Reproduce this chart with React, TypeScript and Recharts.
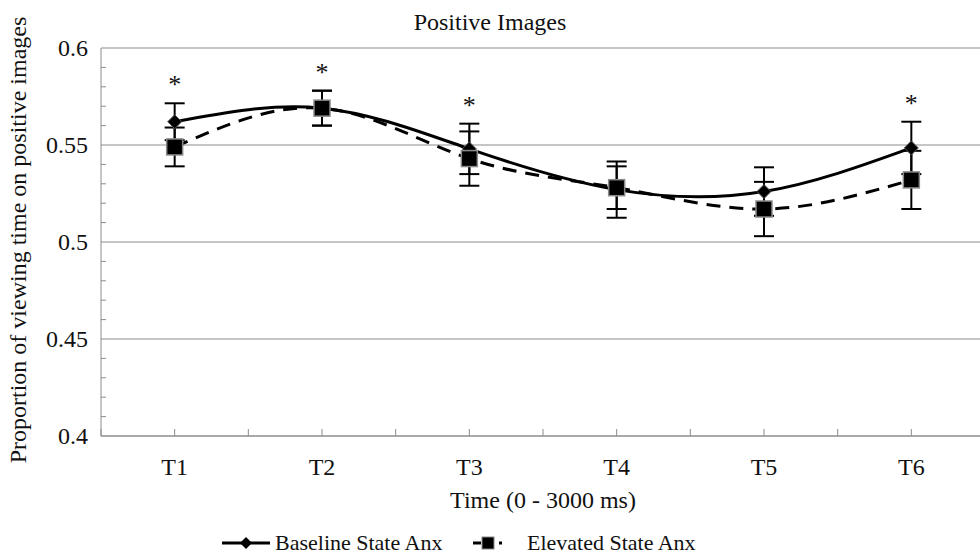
import React from 'react';
import { ComposedChart, Line, XAxis, YAxis, CartesianGrid, ErrorBar, LabelList } from 'recharts';

const categories = ['T1', 'T2', 'T3', 'T4', 'T5', 'T6'];
const baseline = [0.562, 0.569, 0.548, 0.527, 0.526, 0.5485];
const baselineErr = [0.0095, 0.009, 0.013, 0.0145, 0.0125, 0.0135];
const elevated = [0.549, 0.569, 0.543, 0.528, 0.517, 0.532];
const elevatedErr = [0.01, 0.009, 0.014, 0.011, 0.014, 0.015];
const significant = [true, true, true, false, false, true];
const yMajorTicks = [0.4, 0.45, 0.5, 0.55, 0.6];
const yMinorTicks = [0.4, 0.41, 0.42, 0.43, 0.44, 0.45, 0.46, 0.47, 0.48, 0.49, 0.5, 0.51, 0.52, 0.53, 0.54, 0.55, 0.56, 0.57, 0.58, 0.59, 0.6];
const xTicks = [0.5, 1, 1.5, 2, 2.5, 3, 3.5, 4, 4.5, 5, 5.5, 6, 6.5];

const data = categories.map((c, i) => ({
  x: i + 1,
  name: c,
  baseline: baseline[i],
  baselineErr: baselineErr[i],
  elevated: elevated[i],
  elevatedErr: elevatedErr[i],
  star: significant[i] ? Math.max(baseline[i] + baselineErr[i], elevated[i] + elevatedErr[i]) : null,
}));

const FONT = '"Liberation Serif", "Times New Roman", serif';
const GRID = '#8c8c8c';

const YTick = (props: any) => {
  const { x, y, payload } = props;
  const v = payload.value;
  const isMajor = yMajorTicks.some((t) => Math.abs(t - v) < 1e-9);
  return (
    <g>
      {!isMajor && <line x1={x} x2={x + 5} y1={y} y2={y} stroke={GRID} strokeWidth={1} />}
      {isMajor && (
        <text x={x - 13} y={y} dy={8} textAnchor="end" fontFamily={FONT} fontSize={24} fill="#111">
          {String(v)}
        </text>
      )}
    </g>
  );
};

const XTick = (props: any) => {
  const { x, y, payload } = props;
  const v = payload.value;
  const idx = Math.round(v) - 1;
  const isCat = Math.abs(v - Math.round(v)) < 1e-9 && idx >= 0 && idx < categories.length;
  return (
    <g>
      <line x1={x} x2={x} y1={y} y2={y - 7} stroke={GRID} strokeWidth={1} />
      {isCat && (
        <text x={x} y={y + 39} textAnchor="middle" fontFamily={FONT} fontSize={24} fill="#111">
          {categories[idx]}
        </text>
      )}
    </g>
  );
};

const Diamond = (props: any) => {
  const { cx, cy } = props;
  if (cx == null || cy == null) return null;
  const r = 7;
  return <path d={`M${cx},${cy - r} L${cx + r},${cy} L${cx},${cy + r} L${cx - r},${cy} Z`} fill="#000" stroke="#555" strokeWidth={1} />;
};

const Square = (props: any) => {
  const { cx, cy } = props;
  if (cx == null || cy == null) return null;
  const s = 16;
  return <rect x={cx - s / 2} y={cy - s / 2} width={s} height={s} fill="#000" stroke="#8a8a8a" strokeWidth={1.5} />;
};

const StarLabel = (props: any) => {
  const { x, y, value } = props;
  if (value == null || x == null || y == null) return null;
  return (
    <text x={x} y={y - 10} textAnchor="middle" fontFamily={FONT} fontSize={26} fill="#111">
      *
    </text>
  );
};

export default function App() {
  return (
    <div style={{ position: 'absolute', left: 0, top: 0, width: 980, height: 556, overflow: 'hidden', background: '#fff' }}>
      <svg width={980} height={556} style={{ position: 'absolute', left: 0, top: 0 }}>
        <text x={490} y={30} textAnchor="middle" fontFamily={FONT} fontSize={24} fill="#111">Positive Images</text>
        <text x={543} y={508} textAnchor="middle" fontFamily={FONT} fontSize={24} fill="#111">Time (0 - 3000 ms)</text>
        <text transform="translate(26,240) rotate(-90)" textAnchor="middle" fontFamily={FONT} fontSize={24} fill="#111">
          Proportion of viewing time on positive images
        </text>
        {/* legend */}
        <g>
          <line x1={222} x2={270} y1={543} y2={543} stroke="#000" strokeWidth={3} />
          <path d="M246,537 L252,543 L246,549 L240,543 Z" fill="#000" />
          <text x={275} y={550} fontFamily={FONT} fontSize={22} fill="#111">Baseline State Anx</text>
          <line x1={473} x2={502} y1={543} y2={543} stroke="#000" strokeWidth={3} strokeDasharray="8 5" />
          <rect x={482} y={537} width={12} height={12} fill="#000" stroke="#888" strokeWidth={1} />
          <text x={527} y={550} fontFamily={FONT} fontSize={22} fill="#111">Elevated State Anx</text>
        </g>
      </svg>
      <div style={{ position: 'absolute', left: 0, top: 0 }}>
        <ComposedChart width={985} height={556} data={data} margin={{ top: 48, right: 0, bottom: 0, left: 0 }}>
          <CartesianGrid vertical={false} stroke={GRID} strokeWidth={1} horizontalValues={yMajorTicks} />
          <XAxis
            type="number"
            dataKey="x"
            domain={[0.5, 6.5]}
            ticks={xTicks}
            interval={0}
            axisLine={{ stroke: GRID }}
            tickLine={false}
            tickSize={0}
            tickMargin={0}
            tick={<XTick />}
            height={120}
          />
          <YAxis
            type="number"
            domain={[0.4, 0.6]}
            ticks={yMinorTicks}
            interval={0}
            axisLine={{ stroke: GRID }}
            tickLine={false}
            tickSize={0}
            tickMargin={0}
            tick={<YTick />}
            width={101}
          />
          <Line dataKey="star" stroke="none" dot={false} activeDot={false} isAnimationActive={false} connectNulls={false}>
            <LabelList dataKey="star" content={<StarLabel />} />
          </Line>
          <Line
            type="natural"
            dataKey="baseline"
            stroke="#000"
            strokeWidth={3}
            dot={<Diamond />}
            activeDot={false}
            isAnimationActive={false}
          >
            <ErrorBar dataKey="baselineErr" direction="y" width={10} stroke="#000" strokeWidth={2} />
          </Line>
          <Line
            type="natural"
            dataKey="elevated"
            stroke="#000"
            strokeWidth={3}
            strokeDasharray="14 9"
            dot={<Square />}
            activeDot={false}
            isAnimationActive={false}
          >
            <ErrorBar dataKey="elevatedErr" direction="y" width={10} stroke="#000" strokeWidth={2} />
          </Line>
        </ComposedChart>
      </div>
    </div>
  );
}
